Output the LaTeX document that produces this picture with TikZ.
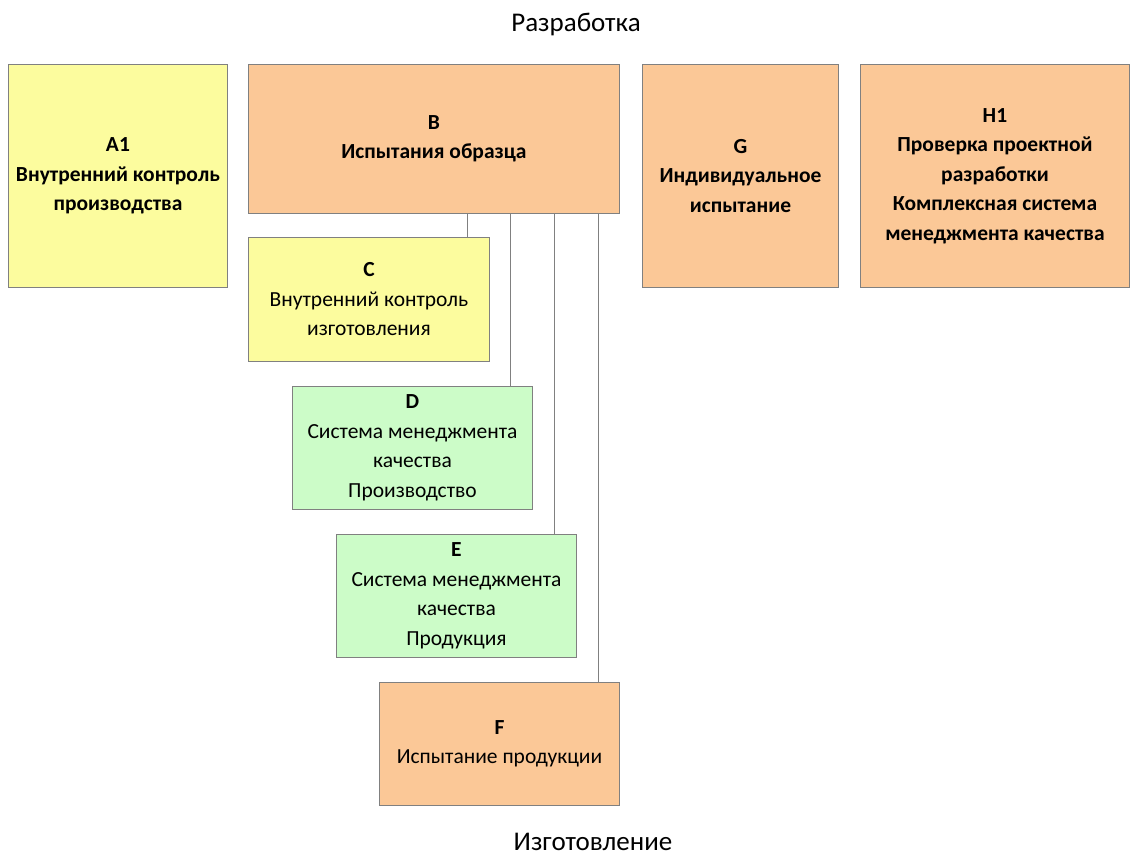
\documentclass[tikz,border=0pt]{standalone}
\usepackage{fontspec}
\setmainfont{Carlito}
\definecolor{byel}{HTML}{FCFC9E}
\definecolor{bora}{HTML}{FBC897}
\definecolor{bgrn}{HTML}{CCFCC8}
\definecolor{bline}{HTML}{808080}
\begin{document}
\begin{tikzpicture}[x=1pt,y=-1pt,
  box/.style={draw=bline, line width=0.9pt, anchor=north west, align=center, inner sep=0pt,
    font=\fontsize{21.5}{29.5}\selectfont},
  conn/.style={draw=bline, line width=0.9pt},
  ttl/.style={font=\fontsize{27}{32}\selectfont, inner sep=0pt}]
\useasboundingbox (0,0) rectangle (1131,856);
\fill[white] (0,0) rectangle (1131,856);
\node[ttl] (top) at (576,24) {Разработка};
\node[ttl] (bot) at (593,842) {Изготовление};
\node[box, fill=byel, minimum width=219pt, minimum height=223pt] (A1) at (8,64)
  {\bfseries A1\\\bfseries Внутренний контроль\\\bfseries производства};
\node[box, fill=bora, minimum width=371pt, minimum height=149pt] (B) at (248,64)
  {\bfseries B\\\bfseries Испытания образца};
\node[box, fill=byel, minimum width=241pt, minimum height=124pt] (C) at (248,237)
  {\bfseries C\\Внутренний контроль\\изготовления};
\node[box, fill=bgrn, minimum width=240pt, minimum height=123pt] (D) at (292,386)
  {\bfseries D\\Система менеджмента\\качества\\Производство};
\node[box, fill=bgrn, minimum width=240pt, minimum height=123pt] (E) at (336,534)
  {\bfseries E\\Система менеджмента\\качества\\Продукция};
\node[box, fill=bora, minimum width=240pt, minimum height=123pt] (F) at (379,682)
  {\bfseries F\\Испытание продукции};
\node[box, fill=bora, minimum width=196pt, minimum height=223pt] (G) at (642,64)
  {\bfseries G\\\bfseries Индивидуальное\\\bfseries испытание};
\node[box, fill=bora, minimum width=269pt, minimum height=223pt] (H1) at (860,64)
  {\bfseries H1\\\bfseries Проверка проектной\\\bfseries разработки\\\bfseries Комплексная система\\\bfseries менеджмента качества};
\coordinate (xC) at (467,0);
\coordinate (xD) at (510,0);
\coordinate (xE) at (554,0);
\coordinate (xF) at (598,0);
\draw[conn] (B.south -| xC) -- (C.north -| xC);
\draw[conn] (B.south -| xD) -- (D.north -| xD);
\draw[conn] (B.south -| xE) -- (E.north -| xE);
\draw[conn] (B.south -| xF) -- (F.north -| xF);
\end{tikzpicture}
\end{document}
